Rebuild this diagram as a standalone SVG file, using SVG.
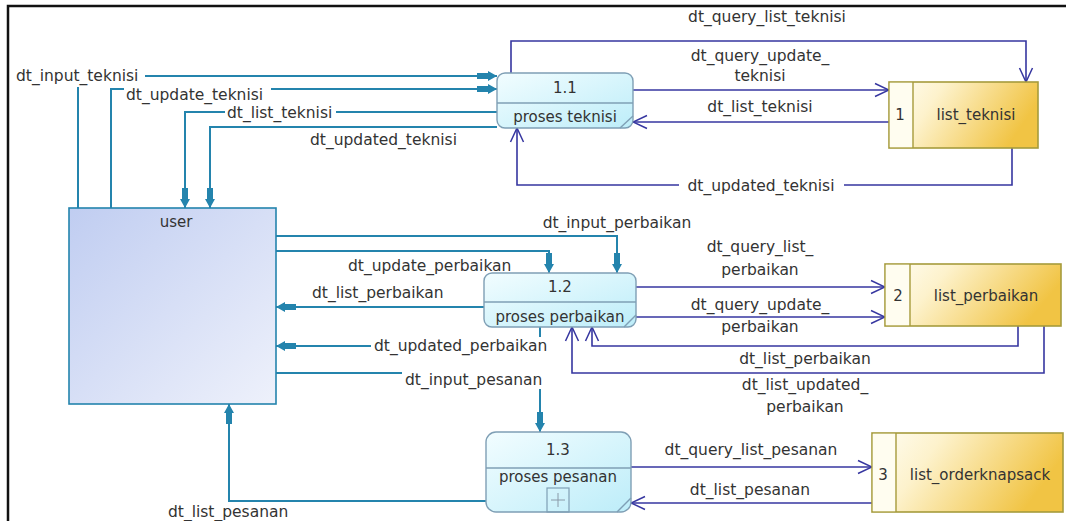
<svg xmlns="http://www.w3.org/2000/svg" width="1066" height="521" viewBox="0 0 1066 521">
<style>
.t{font-family:"DejaVu Sans",Verdana,sans-serif;font-size:15.5px;fill:#333}
.n{font-family:"DejaVu Sans",Verdana,sans-serif;font-size:15px;fill:#333}
.m{text-anchor:middle}
.teal{fill:none;stroke:#2484ad;stroke-width:2}
.navy{fill:none;stroke:#3636a0;stroke-width:1.6}
.proc{fill:url(#gProc);stroke:#7f9fb5;stroke-width:1.4}
.pl{stroke:#7f9fb5;stroke-width:1.4}
.store{fill:url(#gStore);stroke:#a69b3c;stroke-width:1.6}
.bg{fill:#fff}
</style>
<defs>
<linearGradient id="gProc" x1="0" y1="0" x2="1" y2="1"><stop offset="0" stop-color="#f2fdff"/><stop offset="1" stop-color="#bdedf9"/></linearGradient>
<linearGradient id="gStore" x1="0" y1="0" x2="1" y2="0.3"><stop offset="0" stop-color="#fffef6"/><stop offset="0.35" stop-color="#fdf2cc"/><stop offset="1" stop-color="#f1c444"/></linearGradient>
<linearGradient id="gUser" x1="0" y1="0" x2="1" y2="1"><stop offset="0" stop-color="#c0cdf1"/><stop offset="1" stop-color="#eef1fb"/></linearGradient>
<marker id="fa" viewBox="-21 -6 22 12" refX="0" refY="0" markerWidth="22" markerHeight="12" markerUnits="userSpaceOnUse" orient="auto"><path d="M0,0 L-9,-5 L-9,-3 L-20,-3 L-20,3 L-9,3 L-9,5 Z" fill="#2484ad"/></marker>
<marker id="oa" viewBox="-16 -8 17 16" refX="0" refY="0" markerWidth="17" markerHeight="16" markerUnits="userSpaceOnUse" orient="auto"><path d="M-14,-6.5 L0,0 L-14,6.5" fill="none" stroke="#3636a0" stroke-width="1.5"/></marker>
</defs>
<rect width="1066" height="521" fill="#fff"/>
<path d="M8,521 V6 H1066" fill="none" stroke="#111" stroke-width="2.5"/>

<g id="connectors">
<!-- user <-> 1.1 -->
<path class="teal" d="M78,208 V76 H497" marker-end="url(#fa)"/>
<path class="teal" d="M111,208 V89 H497" marker-end="url(#fa)"/>
<path class="teal" d="M497,112 H185 V208" marker-end="url(#fa)"/>
<path class="teal" d="M497,127 H210 V208" marker-end="url(#fa)"/>
<!-- 1.1 <-> store 1 -->
<path class="navy" d="M511,73 V41 H1026 V82" marker-end="url(#oa)"/>
<path class="navy" d="M633,90 H889" marker-end="url(#oa)"/>
<path class="navy" d="M889,122 H633" marker-end="url(#oa)"/>
<path class="navy" d="M1012,148 V185 H517 V128" marker-end="url(#oa)"/>
<!-- user <-> 1.2 -->
<path class="teal" d="M276,236 H617 V273" marker-end="url(#fa)"/>
<path class="teal" d="M276,251 H549 V273" marker-end="url(#fa)"/>
<path class="teal" d="M484,307 H276" marker-end="url(#fa)"/>
<path class="teal" d="M540,327 V346 H276" marker-end="url(#fa)"/>
<!-- 1.2 <-> store 2 -->
<path class="navy" d="M636,287 H885" marker-end="url(#oa)"/>
<path class="navy" d="M636,317 H885" marker-end="url(#oa)"/>
<path class="navy" d="M1018,326 V346 H592 V327" marker-end="url(#oa)"/>
<path class="navy" d="M1044,326 V373 H572 V327" marker-end="url(#oa)"/>
<!-- user <-> 1.3 -->
<path class="teal" d="M276,373 H540 V432" marker-end="url(#fa)"/>
<path class="teal" d="M486,501 H229 V404" marker-end="url(#fa)"/>
<!-- 1.3 <-> store 3 -->
<path class="navy" d="M631,467 H872" marker-end="url(#oa)"/>
<path class="navy" d="M872,503 H631" marker-end="url(#oa)"/>
</g>

<g id="user">
<rect x="69" y="208" width="207" height="196" fill="url(#gUser)" stroke="#2484ad" stroke-width="1.6"/>
<text class="n m" x="176" y="227">user</text>
</g>

<g id="proc-1-1">
<rect class="proc" x="497" y="73" width="136" height="55" rx="8"/>
<line class="pl" x1="497" y1="103" x2="633" y2="103"/>
<line class="pl" x1="620" y1="128" x2="633" y2="116"/>
<text class="n m" x="565" y="93">1.1</text>
<text class="n m" x="565" y="122">proses teknisi</text>
</g>

<g id="proc-1-2">
<rect class="proc" x="484" y="273" width="152" height="54" rx="8"/>
<line class="pl" x1="484" y1="302" x2="636" y2="302"/>
<line class="pl" x1="624" y1="327" x2="636" y2="315"/>
<text class="n m" x="560" y="292">1.2</text>
<text class="n m" x="560" y="322">proses perbaikan</text>
</g>

<g id="proc-1-3">
<rect class="proc" x="486" y="432" width="145" height="80" rx="10"/>
<line class="pl" x1="486" y1="468" x2="631" y2="468"/>
<line class="pl" x1="617" y1="512" x2="631" y2="498"/>
<rect x="547" y="488" width="22" height="24" fill="none" stroke="#7f9fb5" stroke-width="1.2"/>
<path d="M558,493 V507 M551,500 H565" stroke="#8a9aa8" stroke-width="1"/>
<text class="n m" x="558" y="455">1.3</text>
<text class="n m" x="558" y="482">proses pesanan</text>
</g>

<g id="store-1">
<rect class="store" x="889" y="82" width="149" height="66"/>
<rect x="889.8" y="82.8" width="23" height="64.4" fill="#fffdf0"/>
<line x1="913" y1="82" x2="913" y2="148" stroke="#a69b3c" stroke-width="1.4"/>
<text class="n m" x="900" y="120">1</text>
<text class="n m" x="976" y="120">list_teknisi</text>
</g>

<g id="store-2">
<rect class="store" x="885" y="264" width="176" height="62"/>
<rect x="885.8" y="264.8" width="24" height="60.4" fill="#fffdf0"/>
<line x1="910" y1="264" x2="910" y2="326" stroke="#a69b3c" stroke-width="1.4"/>
<text class="n m" x="898" y="301">2</text>
<text class="n m" x="986" y="301">list_perbaikan</text>
</g>

<g id="store-3">
<rect class="store" x="872" y="433" width="191" height="79"/>
<rect x="872.8" y="433.8" width="23" height="77.4" fill="#fffdf0"/>
<line x1="896" y1="433" x2="896" y2="512" stroke="#a69b3c" stroke-width="1.4"/>
<text class="n m" x="883" y="480">3</text>
<text class="n m" x="980" y="480">list_orderknapsack</text>
</g>

<g id="labels">
<rect class="bg" x="14" y="68" width="131" height="19"/>
<text class="t" x="16" y="81">dt_input_teknisi</text>
<rect class="bg" x="124" y="86" width="147" height="18"/>
<text class="t" x="126" y="100">dt_update_teknisi</text>
<rect class="bg" x="225" y="104" width="111" height="18"/>
<text class="t" x="227" y="118">dt_list_teknisi</text>
<text class="t" x="310" y="145">dt_updated_teknisi</text>

<text class="t m" x="767" y="22">dt_query_list_teknisi</text>
<text class="t m" x="760" y="61">dt_query_update_</text>
<text class="t m" x="760" y="81">teknisi</text>
<text class="t m" x="760" y="112">dt_list_teknisi</text>
<rect class="bg" x="679" y="177" width="165" height="17"/>
<text class="t m" x="761" y="191">dt_updated_teknisi</text>

<text class="t m" x="617" y="228">dt_input_perbaikan</text>
<text class="t" x="348" y="271">dt_update_perbaikan</text>
<text class="t" x="312" y="298">dt_list_perbaikan</text>
<rect class="bg" x="371" y="337" width="186" height="18"/>
<text class="t" x="374" y="351">dt_updated_perbaikan</text>
<rect class="bg" x="402" y="369" width="143" height="20"/>
<text class="t" x="405" y="385">dt_input_pesanan</text>

<text class="t m" x="760" y="252">dt_query_list_</text>
<text class="t m" x="760" y="275">perbaikan</text>
<rect class="bg" x="695" y="296" width="130" height="19"/>
<text class="t m" x="760" y="310">dt_query_update_</text>
<text class="t m" x="760" y="332">perbaikan</text>
<text class="t m" x="805" y="364">dt_list_perbaikan</text>
<text class="t m" x="805" y="390">dt_list_updated_</text>
<text class="t m" x="805" y="412">perbaikan</text>

<text class="t m" x="751" y="455">dt_query_list_pesanan</text>
<text class="t m" x="750" y="495">dt_list_pesanan</text>
<text class="t" x="168" y="517">dt_list_pesanan</text>
</g>
</svg>
